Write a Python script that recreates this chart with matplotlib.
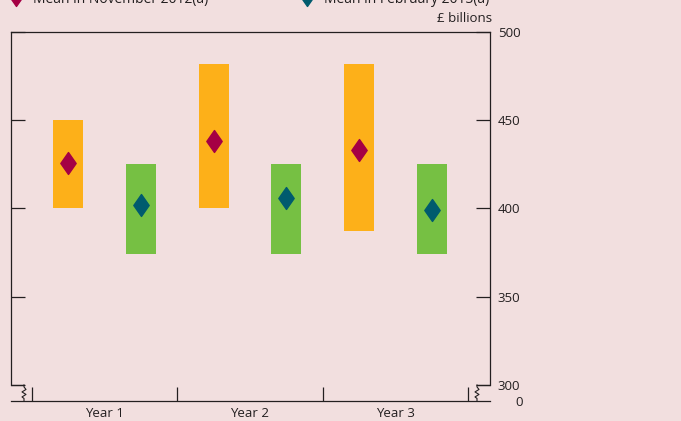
import matplotlib
matplotlib.use("Agg")
import matplotlib.pyplot as plt
from matplotlib.lines import Line2D
from matplotlib.path import Path

# Ranges and means (£ billions) for each year
years = ["Year 1", "Year 2", "Year 3"]
nov_low = [400, 400, 387]
nov_high = [450, 482, 482]
nov_mean = [426, 438, 433]
feb_low = [374, 374, 374]
feb_high = [425, 425, 425]
feb_mean = [402, 406, 399]
legend_labels = ["Mean in November 2012(a)", "Mean in February 2013(a)"]
ytick_vals = [300, 350, 400, 450, 500]

BG = "#f2dfdf"
ORANGE = "#fdb019"
GREEN = "#76c043"
RED = "#a50044"
TEAL = "#005b6e"
INK = "#231f20"

plt.rcParams["font.family"] = ["Open Sans", "DejaVu Sans"]
FS = 9.5

W, H = 681, 421
fig = plt.figure(figsize=(W / 100, H / 100), dpi=100, facecolor=BG)
ax = fig.add_axes([11 / W, 1 - 401 / H, (490 - 11) / W, (401 - 32) / H])
ax.set_facecolor(BG)

ymin, ymax = 290.9, 500
xmin, xmax = -0.1445, 3.151
ax.set_xlim(xmin, xmax)
ax.set_ylim(ymin, ymax)

diamond = Path([(0, 1), (0.7, 0), (0, -1), (-0.7, 0), (0, 1)],
               [Path.MOVETO, Path.LINETO, Path.LINETO, Path.LINETO, Path.CLOSEPOLY])

bw = 0.206
for i in range(len(years)):
    xn, xf = i + 0.25, i + 0.75
    ax.bar(xn, nov_high[i] - nov_low[i], bottom=nov_low[i], width=bw,
           color=ORANGE, linewidth=0, zorder=2)
    ax.bar(xf, feb_high[i] - feb_low[i], bottom=feb_low[i], width=bw,
           color=GREEN, linewidth=0, zorder=2)
    ax.plot(xn, nov_mean[i], marker=diamond, markersize=15.8, color=RED,
            linestyle="none", zorder=3)
    ax.plot(xf, feb_mean[i], marker=diamond, markersize=15.8, color=TEAL,
            linestyle="none", zorder=3)

# Spines: side spines stop at 300, broken down to the zero line
for s in ax.spines.values():
    s.set_color(INK)
    s.set_linewidth(0.9)
ax.spines["left"].set_bounds(300, 500)
ax.spines["right"].set_bounds(300, 500)

ax.set_yticks(ytick_vals)
ax.set_yticklabels([str(v) for v in ytick_vals])
ax.tick_params(axis="y", which="major", direction="in", length=10, width=0.9,
               color=INK, left=True, right=True, labelleft=False, labelright=True,
               labelsize=FS, labelcolor=INK, pad=5.5)

ax.set_xticks(range(len(years) + 1))
ax.set_xticklabels([""] * (len(years) + 1))
ax.set_xticks([i + 0.5 for i in range(len(years))], minor=True)
ax.set_xticklabels(years, minor=True)
ax.tick_params(axis="x", which="major", direction="in", length=10, width=0.9, color=INK)
ax.tick_params(axis="x", which="minor", length=0, labelsize=FS, labelcolor=INK, pad=4.5)

# Axis break glyphs
px = (xmax - xmin) / (490 - 11)
py = (ymax - ymin) / (401 - 32)

def axis_break(x_spine, direction):
    xs = x_spine + direction * 13 * px
    ax.plot([x_spine, xs], [300, 300], color=INK, lw=0.9, clip_on=False,
            solid_capstyle="butt", zorder=4)
    zx = [xs, xs, xs + 2 * px, xs - 2 * px, xs + 2 * px, xs - 2 * px, xs, xs]
    zy = [300, 300 - 2 * py, 300 - 4.5 * py, 300 - 7 * py, 300 - 9.5 * py,
          300 - 12 * py, 300 - 13.5 * py, ymin]
    ax.plot(zx, zy, color=INK, lw=0.8, clip_on=False, zorder=4)

axis_break(xmin, 1)
axis_break(xmax, -1)

fig.text(523 / W, 1 - 402 / H, "0", fontsize=FS, color=INK, ha="right", va="center")

fig.text(492 / W, 1 - 19 / H, "£ billions", fontsize=FS, color=INK,
         ha="right", va="center")

# Legend row along the top edge
for x0, col, lab in [(16, RED, legend_labels[0]), (307, TEAL, legend_labels[1])]:
    fig.add_artist(Line2D([x0 / W], [1 + 5 / H], marker=diamond, markersize=15.8,
                          color=col, linestyle="none", transform=fig.transFigure))
    fig.text((x0 + 17) / W, 1 - 3 / H, lab, fontsize=10, color=INK,
             ha="left", va="baseline")

fig.savefig("out.png", dpi=100, facecolor=BG)
